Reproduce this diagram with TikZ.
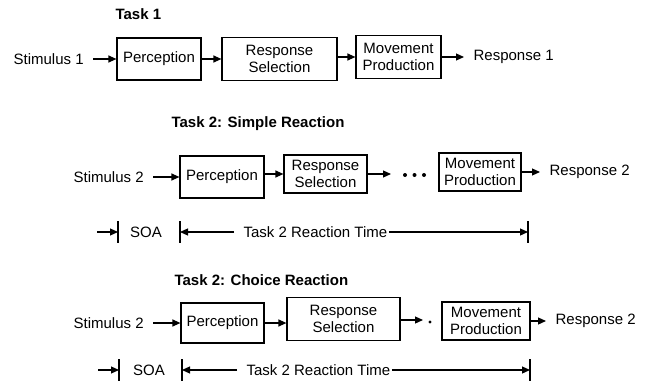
\documentclass[tikz,border=0pt]{standalone}
\usepackage{fontspec}
\setmainfont{Liberation Sans}
\usetikzlibrary{arrows.meta}
\tikzset{
  flow/.style={x=1pt, y=-1pt, >={Triangle[length=8pt,width=7pt]}, line width=1.2pt,
               every node/.style={font=\fontsize{15}{17}\selectfont, inner sep=1pt}},
  stage/.style={draw, line width=1.2pt, align=center},
  ttl/.style={anchor=west, font=\fontsize{15}{17}\selectfont\bfseries},
  txt/.style={anchor=west},
  go/.style={->},
  bar/.style={line width=1.2pt}
}
\newcommand{\tick}[1]{\draw[bar] ([yshift=11pt]#1) -- ([yshift=-11pt]#1);}

\begin{document}
\begin{tikzpicture}[flow]
\useasboundingbox (0,0) rectangle (650,385);
% Task 1
\node[ttl] (t1) at (114,14) {Task 1};
\node[txt] (stim1) at (12,59) {Stimulus 1};
\node[stage, minimum width=84pt, minimum height=42pt] (perc1) at (159,59) {Perception};
\node[stage, minimum width=115pt, minimum height=43pt] (rs1) at (279.5,59) {Response\\Selection};
\node[stage, minimum width=85pt, minimum height=43pt] (mp1) at (398.5,57) {Movement\\Production};
\node[txt] (resp1) at (472,57) {Response 1};
\draw[go, shorten <=8pt] (stim1.east) -- (perc1.west);
\draw[go] (perc1.east) -- (perc1.east -| rs1.west);
\draw[go] (rs1.east |- mp1.west) -- (mp1.west);
\draw[go, shorten >=8pt] (mp1.east) -- (resp1.west);
% Task 2, simple reaction
\node[ttl] (t2) at (170,124) {Task 2: Simple Reaction};
\node[txt] (stim2) at (72,177) {Stimulus 2};
\node[stage, minimum width=84pt, minimum height=42pt] (perc2) at (222,177) {Perception};
\node[stage, minimum width=83pt, minimum height=38pt] (rs2) at (325.5,174) {Response\\Selection};
\node[stage, minimum width=82pt, minimum height=38pt] (mp2) at (480,172) {Movement\\Production};
\node[txt] (resp2) at (548,172) {Response 2};
\coordinate (d2) at (391,174);
\draw[go, shorten <=8pt] (stim2.east) -- (stim2.east -| perc2.west);
\draw[go] (perc2.east |- rs2.west) -- (rs2.west);
\draw[go] (rs2.east) -- (d2);
\foreach \x in {405,414.5,424} \fill (\x,175) circle (2pt);
\draw[go, shorten >=8pt] (mp2.east) -- (resp2.west);
\coordinate (a2) at (97,232); \coordinate (b2a) at (118,232);
\coordinate (b2b) at (180,232); \coordinate (b2c) at (528,232);
\node (soa2) at (146,232) {SOA};
\node[txt] (rt2) at (242,232) {Task 2 Reaction Time};
\draw[go] (a2) -- (b2a);
\draw[go, shorten <=8pt] (rt2.west) -- (b2b);
\draw[go] (rt2.east) -- (b2c);
\tick{b2a} \tick{b2b} \tick{b2c}
% Task 2, choice reaction
\node[ttl] (t3) at (173,280) {Task 2: Choice Reaction};
\node[txt] (stim3) at (72,323) {Stimulus 2};
\node[stage, minimum width=83pt, minimum height=40pt] (perc3) at (222.5,323) {Perception};
\node[stage, minimum width=113pt, minimum height=43pt] (rs3) at (343.5,319) {Response\\Selection};
\node[stage, minimum width=88pt, minimum height=38pt] (mp3) at (486,321) {Movement\\Production};
\node[txt] (resp3) at (554,321) {Response 2};
\coordinate (d3) at (423,320);
\draw[go, shorten <=8pt] (stim3.east) -- (perc3.west);
\draw[go] (perc3.east) -- (perc3.east -| rs3.west);
\draw[go] (rs3.east |- d3) -- (d3);
\fill (430,322) circle (1.7pt);
\draw[go, shorten >=8pt] (mp3.east) -- (resp3.west);
\coordinate (a3) at (98,370); \coordinate (b3a) at (119,370);
\coordinate (b3b) at (182,370); \coordinate (b3c) at (530,370);
\node (soa3) at (149,370) {SOA};
\node[txt] (rt3) at (245,370) {Task 2 Reaction Time};
\draw[go] (a3) -- (b3a);
\draw[go, shorten <=8pt] (rt3.west) -- (b3b);
\draw[go] (rt3.east) -- (b3c);
\tick{b3a} \tick{b3b} \tick{b3c}
\end{tikzpicture}
\end{document}
